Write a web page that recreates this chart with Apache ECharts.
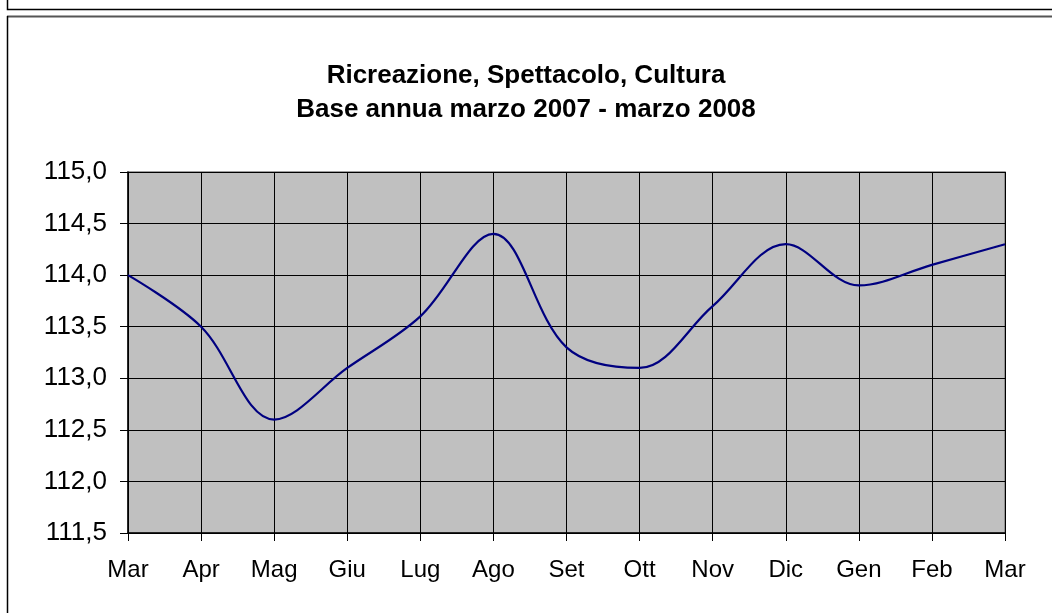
<!DOCTYPE html>
<html>
<head>
<meta charset="utf-8">
<script src="https://cdn.jsdelivr.net/npm/echarts@6/dist/echarts.min.js"></script>
<style>
html,body{margin:0;padding:0;background:#fff;}
#c{width:1052px;height:613px;}
</style>
</head>
<body>
<div id="c"></div>
<script>
const categories = ['Mar','Apr','Mag','Giu','Lug','Ago','Set','Ott','Nov','Dic','Gen','Feb','Mar'];
const values = [114.0, 113.5, 112.6, 113.1, 113.6, 114.4, 113.3, 113.1, 113.7, 114.3, 113.9, 114.1, 114.3];
const titleLines = ['Ricreazione, Spettacolo, Cultura', 'Base annua marzo 2007 - marzo 2008'];

const chart = echarts.init(document.getElementById('c'), null, {renderer: 'canvas'});
const font = '"Liberation Sans", Arial, sans-serif';
chart.setOption({
  animation: false,
  backgroundColor: '#fff',
  title: {
    text: titleLines.join('\n'),
    left: 'center', top: 54,
    textStyle: {fontFamily: font, fontSize: 26, fontWeight: 'bold', color: '#000', lineHeight: 34}
  },
  graphic: [
    {type: 'polyline', shape: {points: [[7.5, -5], [7.5, 9.5], [1060, 9.5]]}, style: {stroke: '#000', lineWidth: 1.5, fill: null}},
    {type: 'line', shape: {x1: 7, y1: 16.5, x2: 1060, y2: 16.5}, style: {stroke: '#555', lineWidth: 2}},
    {type: 'line', shape: {x1: 7.5, y1: 16, x2: 7.5, y2: 620}, style: {stroke: '#000', lineWidth: 1.5}}
  ],
  grid: {
    left: 128, right: 47, top: 172, bottom: 80,
    show: true, backgroundColor: '#c0c0c0', borderColor: '#808080', borderWidth: 1.5
  },
  xAxis: {
    type: 'category', data: categories, boundaryGap: false,
    axisLine: {show: true, lineStyle: {color: '#000', width: 1.5}},
    axisTick: {show: true, length: 8, lineStyle: {color: '#000'}, alignWithLabel: true},
    axisLabel: {fontFamily: font, fontSize: 24, color: '#000', margin: 25, interval: 0},
    splitLine: {show: true, lineStyle: {color: '#000', width: 1}}
  },
  yAxis: {
    type: 'value', min: 111.5, max: 115, interval: 0.5,
    axisLine: {show: true, lineStyle: {color: '#000', width: 1.5}},
    axisTick: {show: true, length: 8, lineStyle: {color: '#000'}},
    axisLabel: {fontFamily: font, fontSize: 26, color: '#000', margin: 21,
      formatter: v => v.toFixed(1).replace('.', ',')},
    splitLine: {show: true, lineStyle: {color: '#000', width: 1}}
  },
  series: [{
    type: 'line', data: values, smooth: 0.35, symbol: 'none',
    lineStyle: {color: '#000080', width: 2.2}
  }]
});
</script>
</body>
</html>
